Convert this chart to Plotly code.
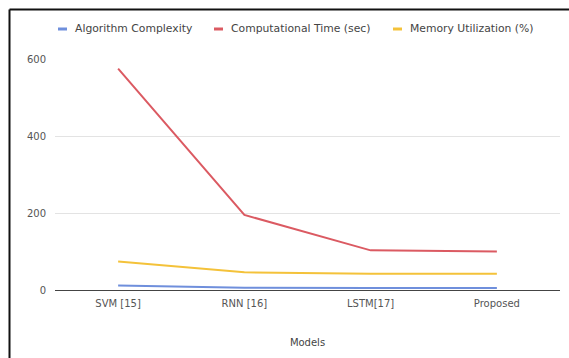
import plotly.graph_objects as go

# Models compared and the three metrics measured for each
models = ["SVM [15]", "RNN [16]", "LSTM[17]", "Proposed"]
algorithm_complexity = [12, 6, 5, 5]
computational_time = [575, 195, 103, 100]
memory_utilization = [74, 46, 42, 42]

series_names = ["Algorithm Complexity", "Computational Time (sec)", "Memory Utilization (%)"]
series_values = [algorithm_complexity, computational_time, memory_utilization]
series_colors = ["#6f8fdc", "#db5a62", "#f4c23a"]

W, H = 569, 358
L, R, T, B = 55, 9, 59, 68
pw, ph = W - L - R, H - T - B


def px_x(x):
    return (x - L) / pw


def px_y(y):
    return (H - B - y) / ph


font = "DejaVu Sans, Verdana, sans-serif"

fig = go.Figure()
for name, values, color in zip(series_names, series_values, series_colors):
    fig.add_trace(go.Scatter(
        x=models, y=values, name=name, mode="lines",
        line=dict(color=color, width=2), showlegend=False,
    ))

# Legend row drawn as short dashes followed by labels
legend_text_x = [73, 229, 408]
legend_y = 29
shapes = []
annotations = []
for name, color, tx in zip(series_names, series_colors, legend_text_x):
    shapes.append(dict(type="line", xref="paper", yref="paper",
                       x0=px_x(tx - 15), x1=px_x(tx - 6), y0=px_y(legend_y), y1=px_y(legend_y),
                       line=dict(color=color, width=3)))
    annotations.append(dict(xref="paper", yref="paper", x=px_x(tx), y=px_y(legend_y),
                            xanchor="left", yanchor="middle", text=name, showarrow=False,
                            font=dict(family=font, size=10.8, color="#444444")))

# Frame around the chart
shapes += [
    dict(type="line", xref="paper", yref="paper",
         x0=px_x(9.5), x1=px_x(600), y0=px_y(9.5), y1=px_y(9.5),
         line=dict(color="#111111", width=2)),
    dict(type="line", xref="paper", yref="paper",
         x0=px_x(9.5), x1=px_x(9.5), y0=px_y(9.5), y1=px_y(400),
         line=dict(color="#111111", width=2)),
]

fig.update_layout(
    width=W, height=H,
    margin=dict(l=L, r=R, t=T, b=B),
    paper_bgcolor="white", plot_bgcolor="white",
    font=dict(family=font, size=10, color="#555555"),
    xaxis=dict(
        type="category", range=[-0.5, len(models) - 0.5],
        showgrid=False, showline=True, linecolor="#444444",
        linewidth=1, ticks="", ticklabelstandoff=4,
        tickfont=dict(size=10, color="#555555"),
        title=dict(text="Models", font=dict(size=10, color="#444444"), standoff=30),
        zeroline=False,
    ),
    yaxis=dict(
        range=[0, 600], tickvals=[0, 200, 400, 600], showgrid=True,
        gridcolor="#e3e3e3", gridwidth=1, zeroline=False, showline=False,
        ticks="", ticklabelstandoff=8, tickfont=dict(size=10, color="#555555"),
    ),
    shapes=shapes,
    annotations=annotations,
)

fig.write_html("out.html")
